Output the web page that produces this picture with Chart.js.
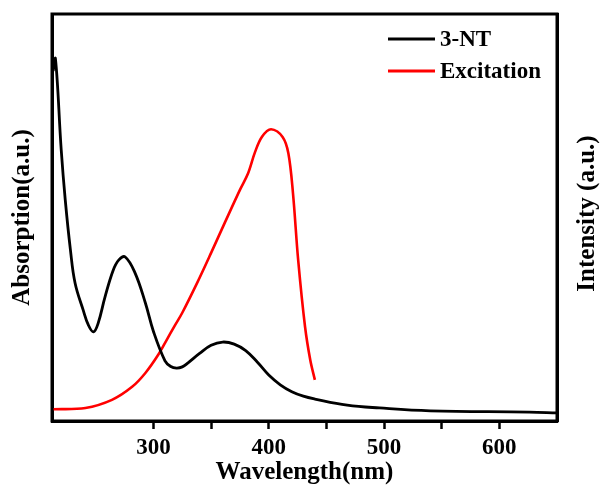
<!DOCTYPE html>
<html>
<head>
<meta charset="utf-8">
<script src="https://cdn.jsdelivr.net/npm/chart.js@4"></script>
<style>
  html, body { margin: 0; padding: 0; background: #fff; }
  #wrap { width: 603px; height: 488px; }
</style>
</head>
<body>
<div id="wrap"><canvas id="spectra"></canvas></div>
<script>
// 3-NT absorption spectrum (wavelength nm, a.u.)
const ntWavelength = [213, 215, 220, 223.5, 228, 232, 239, 243.5, 248, 252, 258, 265, 270, 275.5, 284, 293, 300, 310, 315, 320, 325, 330, 340, 350, 360, 370, 380, 390, 400, 410, 420, 430, 440, 468, 496, 540, 626, 650];
const ntAbsorption = [86, 89, 66.6, 54.3, 42, 33.9, 27.3, 23.6, 21.9, 24, 30.5, 37, 39.6, 40.3, 36.4, 29, 22, 14.8, 13.4, 13, 13.3, 14.3, 16.6, 18.6, 19.4, 18.9, 17.3, 14.5, 11.3, 8.9, 7.2, 6.1, 5.4, 3.9, 3.2, 2.5, 2.2, 2];

// excitation spectrum (wavelength nm, intensity a.u.)
const exWavelength = [213, 241, 264, 281.5, 293, 304, 312, 318, 325, 338, 350, 362, 375, 382, 388, 394, 402, 412, 417, 421, 425.5, 431.5, 436, 440];
const exIntensity = [2.9, 3.2, 5.2, 8.4, 11.8, 16.2, 20.2, 23.2, 26.6, 34, 41.3, 48.8, 56.8, 60.8, 66, 69.8, 71.7, 69.8, 65.8, 56, 39.6, 23.1, 15, 10.1];

const majorTicks = [300, 400, 500, 600];
const seriesNames = ['3-NT', 'Excitation'];

const serif = '"Liberation Serif", "Times New Roman", serif';

function toPoints(xs, ys) {
  return xs.map((x, i) => ({ x: x, y: ys[i] }));
}

// frame, right axis title and legend drawn on top
const decorations = {
  id: 'decorations',
  afterDraw(chart) {
    const { ctx, chartArea } = chart;
    ctx.save();
    ctx.strokeStyle = '#000';
    ctx.lineWidth = 3;
    ctx.strokeRect(chartArea.left, chartArea.top, chartArea.right - chartArea.left, chartArea.bottom - chartArea.top);

    // right title reads bottom to top
    ctx.translate(588, (chartArea.top + chartArea.bottom) / 2 - 4);
    ctx.rotate(-Math.PI / 2);
    ctx.font = 'bold 25px ' + serif;
    ctx.fillStyle = '#000';
    ctx.textAlign = 'center';
    ctx.textBaseline = 'middle';
    ctx.fillText('Intensity (a.u.)', 0, 0);
    ctx.restore();

    // legend
    ctx.save();
    ctx.font = 'bold 23px ' + serif;
    ctx.textBaseline = 'middle';
    ctx.textAlign = 'left';
    chart.data.datasets.forEach((ds, i) => {
      const y = 39 + i * 32;
      ctx.strokeStyle = ds.borderColor;
      ctx.lineWidth = 3;
      ctx.beginPath();
      ctx.moveTo(388, y);
      ctx.lineTo(435, y);
      ctx.stroke();
      ctx.fillStyle = '#000';
      ctx.fillText(ds.label, 440, y + 1);
    });
    ctx.restore();
  }
};

new Chart(document.getElementById('spectra'), {
  type: 'scatter',
  data: {
    datasets: [{
      label: seriesNames[0],
      data: toPoints(ntWavelength, ntAbsorption),
      borderColor: '#000000',
      borderWidth: 2.8,
      showLine: true,
      pointRadius: 0,
      tension: 0.4,
      yAxisID: 'y'
    }, {
      label: seriesNames[1],
      data: toPoints(exWavelength, exIntensity),
      borderColor: '#ff0000',
      borderWidth: 2.6,
      showLine: true,
      pointRadius: 0,
      tension: 0.35,
      yAxisID: 'y2'
    }]
  },
  options: {
    responsive: true,
    maintainAspectRatio: false,
    animation: false,
    layout: { padding: { top: 14 } },
    plugins: {
      legend: { display: false },
      tooltip: { enabled: false }
    },
    scales: {
      x: {
        type: 'linear',
        min: 212,
        max: 650,
        afterBuildTicks: s => {
          s.ticks = s.ticks.filter(t => t.value % 50 === 0 && t.value < 650);
        },
        afterFit: s => { s.height = 67; },
        ticks: {
          stepSize: 50,
          color: '#000',
          padding: 5,
          maxRotation: 0,
          autoSkip: false,
          font: { family: serif, size: 23, weight: 'bold' },
          callback: v => majorTicks.includes(v) ? String(v) : ''
        },
        grid: { drawOnChartArea: false, drawTicks: true, tickLength: 8, tickWidth: 2.5, color: '#000' },
        border: { display: true, width: 3, color: '#000' },
        title: {
          display: true,
          text: 'Wavelength(nm)',
          color: '#000',
          font: { family: serif, size: 25, weight: 'bold' },
          padding: { top: 0, bottom: 0 }
        }
      },
      y: {
        position: 'left',
        min: 0,
        max: 100,
        afterFit: s => { s.width = 52; },
        ticks: { display: false },
        grid: { display: false },
        border: { display: true, width: 3, color: '#000' },
        title: {
          display: true,
          text: 'Absorption(a.u.)',
          color: '#000',
          font: { family: serif, size: 25, weight: 'bold' },
          padding: { top: 8, bottom: 0 }
        }
      },
      y2: {
        position: 'right',
        min: 0,
        max: 100,
        afterFit: s => { s.width = 46; },
        ticks: { display: false },
        grid: { display: false },
        border: { display: true, width: 3, color: '#000' }
      }
    }
  },
  plugins: [decorations]
});
</script>
</body>
</html>
